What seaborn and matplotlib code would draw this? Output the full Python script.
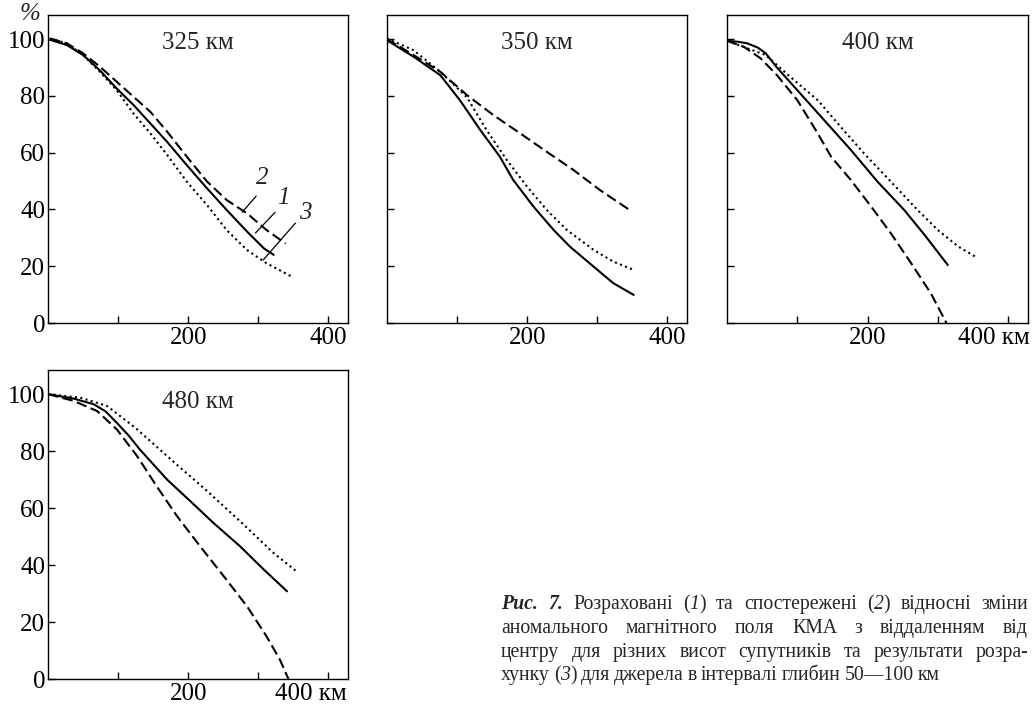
import numpy as np
import pandas as pd
import matplotlib
matplotlib.use("Agg")
import matplotlib.pyplot as plt
import matplotlib.transforms as mtransforms
import seaborn as sns

# ---------------- data (distance from centre, km ; relative field, %) ----------------
panel_titles = ["325 км", "350 км", "400 км", "480 км"]

# 325 km
x325_calc = [0, 27, 50, 74, 98, 122, 146, 170, 198, 227, 255, 284, 308, 322]
y325_calc = [100, 97.9, 94.4, 89, 82.6, 76.8, 70.3, 63.8, 55.6, 47.4, 39.8, 32.2, 26.3, 24]
x325_obs = [3, 27, 50, 74, 98, 122, 146, 170, 198, 227, 255, 284, 312, 339]
y325_obs = [100.2, 98.5, 95, 90.3, 85, 79.7, 74.4, 67.4, 58.6, 49.8, 43.3, 38.6, 32.7, 28]
x325_src = [3, 27, 50, 74, 98, 122, 146, 170, 198, 227, 255, 284, 312, 348]
y325_src = [100.2, 98.5, 94.4, 88.5, 82, 73.8, 66.8, 59.2, 49.8, 41.5, 32.7, 25.7, 21, 16.3]

# 350 km
x350_calc = [0, 38, 76, 104, 133, 161, 180, 209, 238, 261, 295, 323, 352]
y350_calc = [99.6, 93.8, 87.3, 78.5, 68, 58.6, 50.4, 41, 32.7, 26.9, 19.8, 14, 9.9]
x350_obs = [0, 38, 76, 114, 152, 190, 228, 266, 304, 345]
y350_obs = [100, 94.4, 88.5, 80.3, 73.2, 66.8, 60.3, 53.9, 46.8, 40]
x350_src = [0, 38, 76, 114, 142, 171, 200, 228, 257, 295, 323, 352]
y350_src = [100.2, 96.1, 88.5, 79.5, 68, 57.4, 48, 39.8, 32.7, 25.7, 21.6, 18.7]

# 400 km
x400_calc = [0, 15, 29, 44, 55, 71, 100, 138, 176, 214, 252, 281, 314]
y400_calc = [99.4, 99.1, 98.5, 97.0, 95, 90, 82, 71.5, 61, 49.8, 39.8, 31, 20.4]
x400_obs = [0, 24, 48, 71, 100, 129, 148, 176, 205, 233, 262, 290, 312]
y400_obs = [99.4, 97.3, 93.2, 87.3, 78.5, 66.8, 58.6, 50.4, 41, 31.6, 21, 10.4, 0]
x400_src = [0, 55, 90, 129, 162, 195, 233, 271, 300, 329, 355]
y400_src = [99.4, 94.4, 86.7, 78.5, 69, 59.7, 49.8, 39.8, 32.7, 26.9, 23.1]

# 480 km
x480_calc = [0, 36, 65, 82, 98, 115, 131, 170, 208, 236, 274, 308, 341]
y480_calc = [100, 98.5, 96.5, 94, 90, 85.5, 80.6, 70, 61.3, 54.8, 46.6, 38.4, 30.8]
x480_obs = [0, 36, 70, 98, 127, 155, 184, 217, 251, 284, 312, 331, 343]
y480_obs = [100, 97.7, 94.1, 87.7, 78.3, 67.7, 57.2, 46.6, 36, 25.5, 14.9, 6.7, 0]
x480_src = [0, 46, 84, 112, 127, 179, 227, 274, 322, 353]
y480_src = [100, 98.8, 95.9, 90.6, 87.7, 76.3, 66, 55.4, 44.2, 38.1]

y_ticks = [0, 20, 40, 60, 80, 100]
x_ticks = [100, 200, 300, 400]

caption_lines = [
    [[("Рис.", "bi")], [("7.", "bi")], [("Розраховані", "n")],
     [("(", "n"), ("1", "i"), (")", "n")], [("та", "n")], [("спостережені", "n")],
     [("(", "n"), ("2", "i"), (")", "n")], [("відносні", "n")], [("зміни", "n")]],
    [[(w, "n")] for w in "аномального магнітного поля КМА з віддаленням від".split()],
    [[(w, "n")] for w in "центру для різних висот супутників та результати розра-".split()],
    [[("хунку", "n")], [("(", "n"), ("3", "i"), (")", "n")]] +
    [[(w, "n")] for w in "для джерела в інтервалі глибин 50—100 км".split()],
]

# ---------------- styling ----------------
sns.set_style("ticks")
SERIF = ["Liberation Serif", "DejaVu Serif"]
plt.rcParams["font.family"] = SERIF

W, H = 1036, 708
fig = plt.figure(figsize=(W / 100, H / 100), dpi=100)

def px_axes(l, t, r, b):
    return fig.add_axes([l / W, 1 - b / H, (r - l) / W, (b - t) / H])

ax1 = px_axes(48, 15, 348, 323)
ax2 = px_axes(387, 15, 687, 323)
ax3 = px_axes(727, 15, 1028, 323)
ax4 = px_axes(48, 370, 348, 679)

panels = [
    (ax1, x325_calc, y325_calc, x325_obs, y325_obs, x325_src, y325_src),
    (ax2, x350_calc, y350_calc, x350_obs, y350_obs, x350_src, y350_src),
    (ax3, x400_calc, y400_calc, x400_obs, y400_obs, x400_src, y400_src),
    (ax4, x480_calc, y480_calc, x480_obs, y480_obs, x480_src, y480_src),
]

TICK_FS = 18
dashes = {"1": "", "2": (5.0, 2.2), "3": (1.0, 1.6)}

for i, (ax, xc, yc, xo, yo, xs, ys) in enumerate(panels):
    df = pd.DataFrame({
        "dist": list(xc) + list(xo) + list(xs),
        "pct": list(yc) + list(yo) + list(ys),
        "series": ["1"] * len(xc) + ["2"] * len(xo) + ["3"] * len(xs),
    })
    sns.lineplot(data=df, x="dist", y="pct", style="series", dashes=dashes,
                 style_order=["1", "2", "3"], color="black", linewidth=1.5,
                 estimator=None, sort=False, legend=False, ax=ax)
    ax.set_xlim(0, 428)
    ax.set_ylim(0, 108.5)
    ax.set_xlabel("")
    ax.set_ylabel("")
    for sp in ax.spines.values():
        sp.set_visible(True)
        sp.set_linewidth(1.0)
        sp.set_color("black")
    ax.set_yticks(y_ticks)
    ax.set_xticks(x_ticks)
    ax.tick_params(direction="in", length=5, width=1.0, colors="black",
                   labelsize=TICK_FS, top=False, right=False)
    ax.tick_params(axis="x", pad=3)
    ax.tick_params(axis="y", pad=2)
    if i in (0, 3):
        ax.set_yticklabels([str(v) for v in y_ticks])
    else:
        ax.set_yticklabels([])
    last = "400 км" if i in (2, 3) else "400"
    ax.set_xticklabels(["", "200", "", last])
    if i in (2, 3):
        shift = -14 if i == 2 else -17
        lab = ax.get_xticklabels()[3]
        lab.set_transform(lab.get_transform() +
                          mtransforms.ScaledTranslation(shift / 100, 0, fig.dpi_scale_trans))
    ax.text(0.5, 0.91 if i < 3 else 0.895, panel_titles[i], transform=ax.transAxes,
            ha="center", va="center", fontsize=TICK_FS)

# percent sign
fig.text(30 / W, 1 - 14 / H, "%", ha="center", va="center", fontsize=TICK_FS, fontstyle="italic")

# curve labels with leader lines (panel 325 km)
for lab, tx, ty, (x0, y0, x1, y1) in [
    ("2", 306, 51, (297, 44.7, 277, 39)),
    ("1", 336, 44, (324, 39, 296, 31.7)),
    ("3", 367, 38.7, (353, 35.2, 307, 22.2)),
]:
    ax1.plot([x0, x1], [y0, y1], color="black", lw=0.9)
    ax1.text(tx, ty, lab, ha="center", va="center", fontsize=TICK_FS, fontstyle="italic")

# ---------------- caption (justified) ----------------
CAP_FS = 14.2
renderer = fig.canvas.get_renderer()
ident = mtransforms.IdentityTransform()

def make_run(s, st):
    kw = dict(fontsize=CAP_FS, family=SERIF)
    if "b" in st:
        kw["fontweight"] = "bold"
    if "i" in st:
        kw["fontstyle"] = "italic"
    return fig.text(0, 0, s, transform=ident, ha="left", va="baseline", **kw)

left_px, right_px = 501, 1028
baselines = [609, 633, 657, 680]
space = 0.25 * CAP_FS * 100 / 72
for li, line in enumerate(caption_lines):
    words = []
    for word in line:
        runs = [make_run(s, st) for s, st in word]
        ws = [r.get_window_extent(renderer).width for r in runs]
        words.append((runs, ws))
    total = sum(sum(ws) for _, ws in words)
    gaps = len(words) - 1
    if li < len(caption_lines) - 1:
        gap = (right_px - left_px - total) / gaps
    else:
        gap = space * 0.8
    x = left_px
    y = H - baselines[li]
    for runs, ws in words:
        for r, w in zip(runs, ws):
            r.set_position((x, y))
            x += w
        x += gap

fig.savefig("out.png", dpi=100)
